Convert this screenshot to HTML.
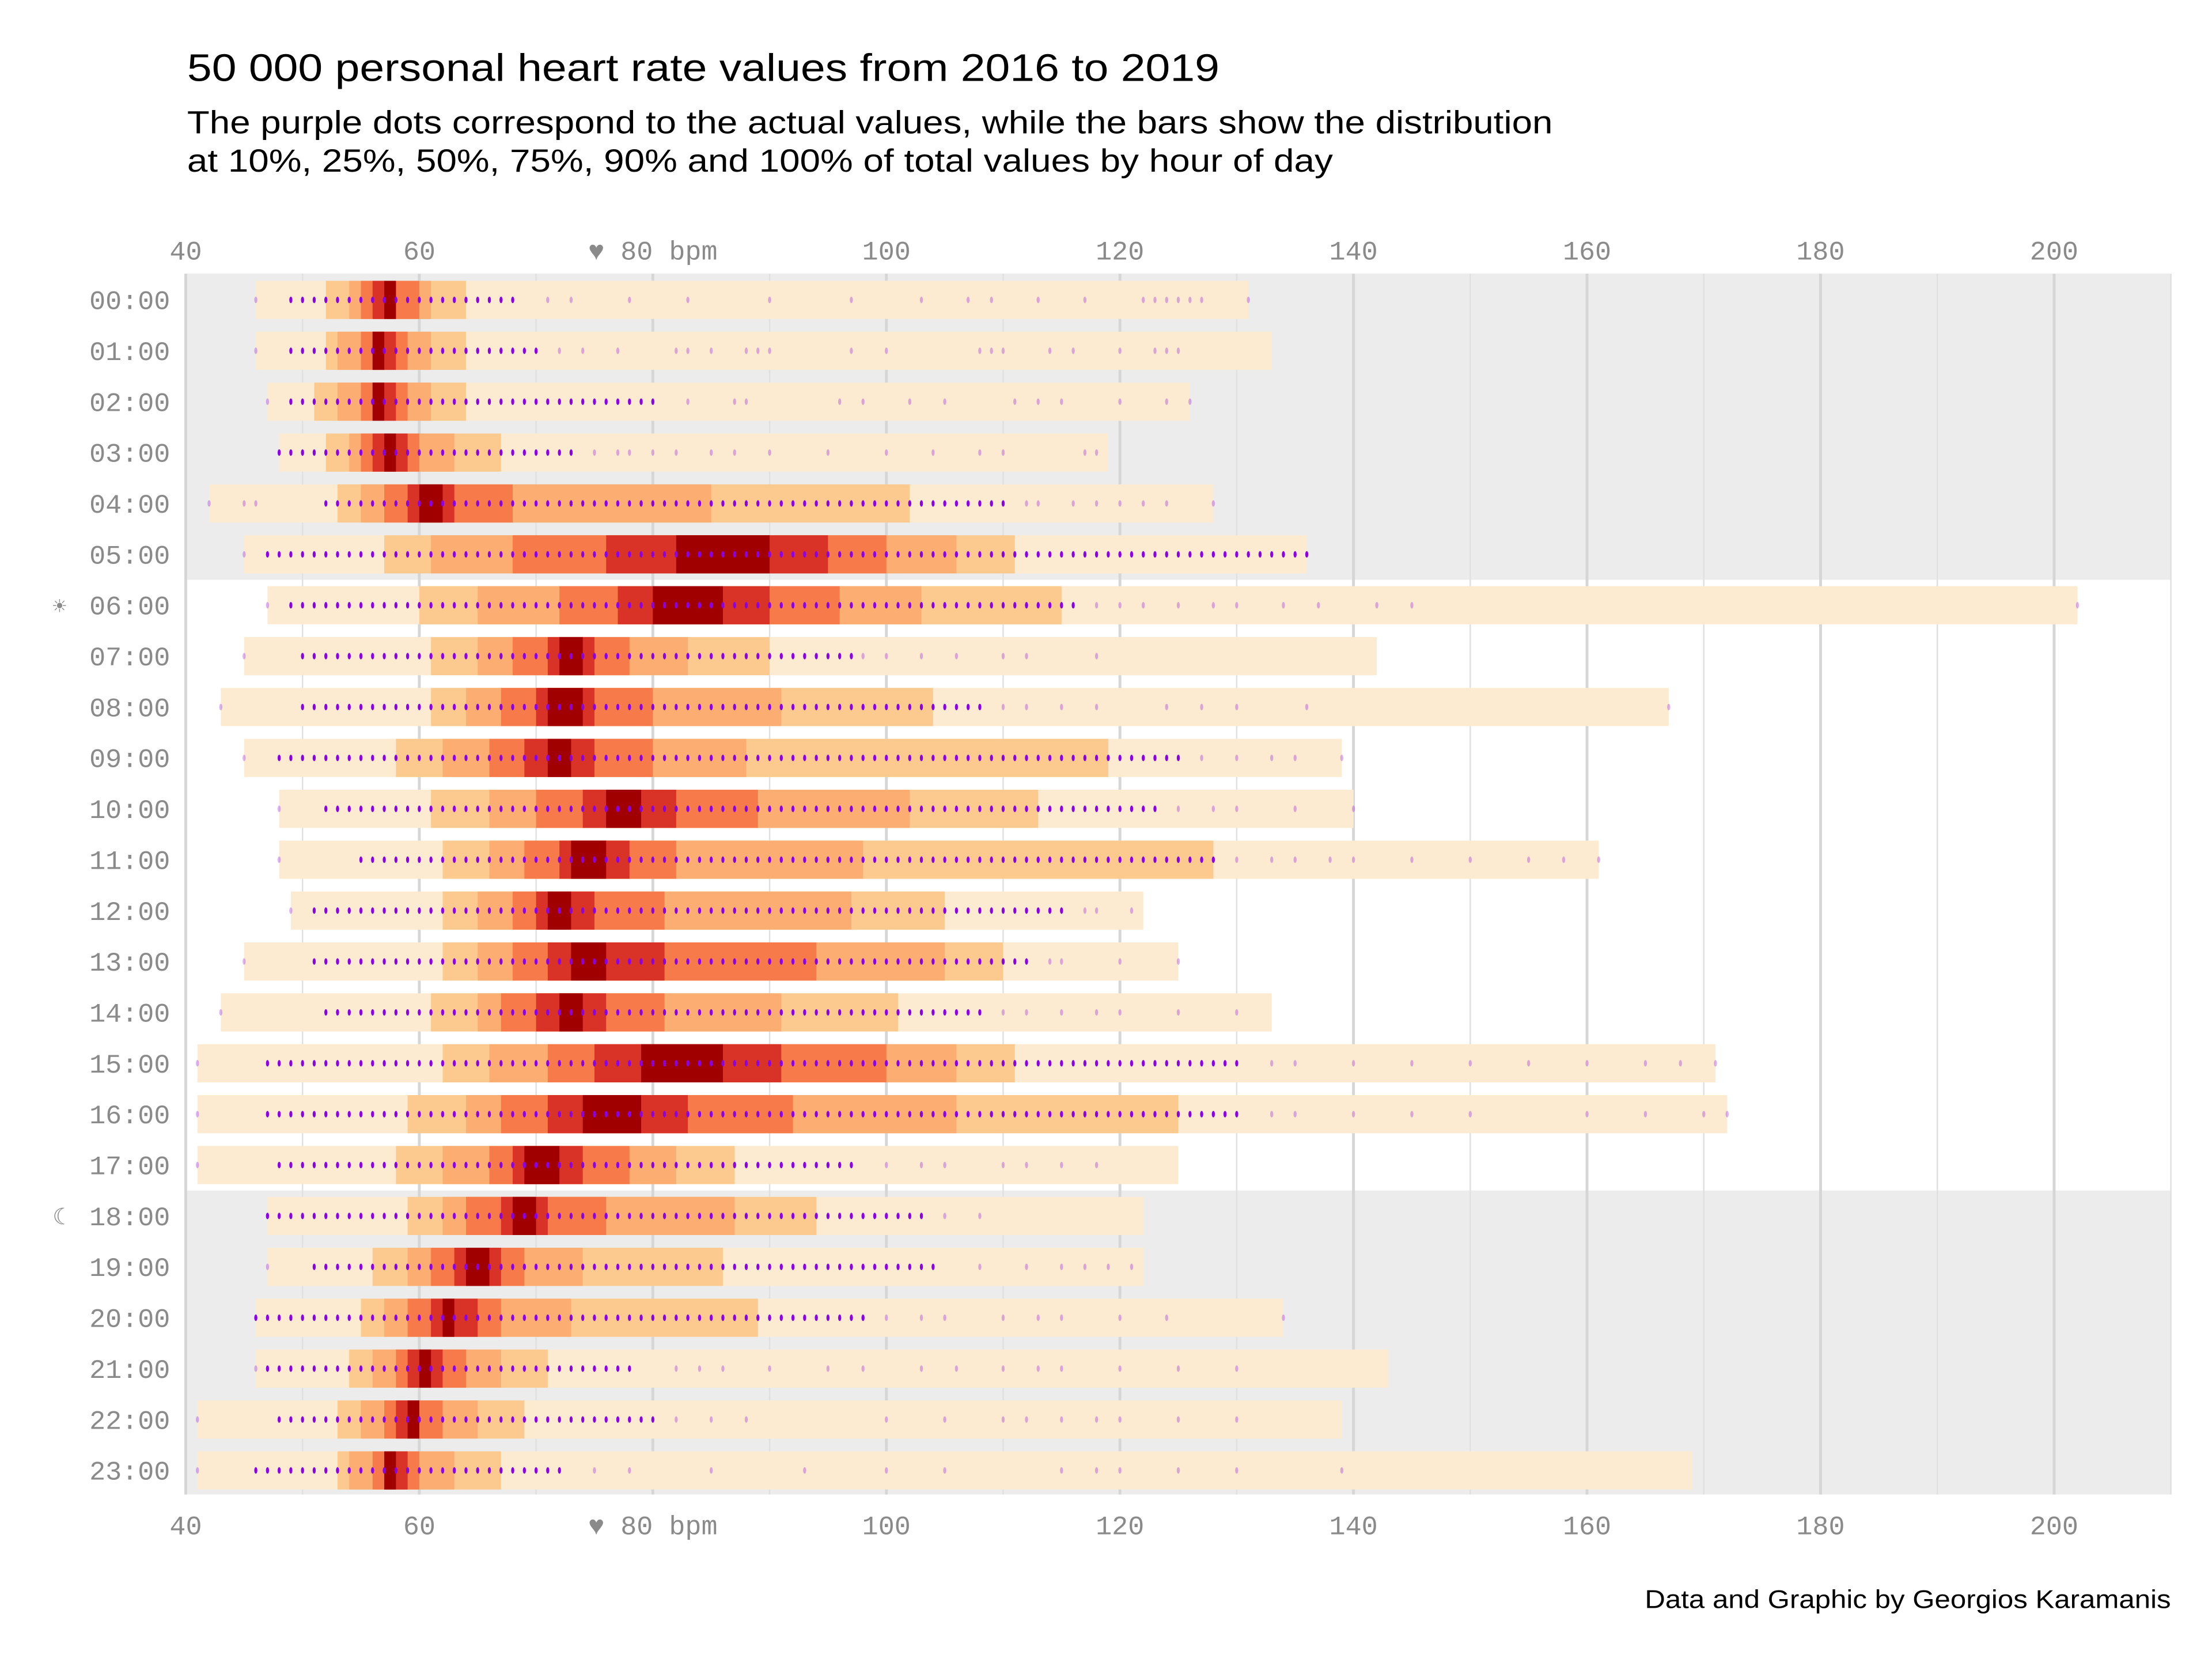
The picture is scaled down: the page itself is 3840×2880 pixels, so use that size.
<!DOCTYPE html>
<html><head><meta charset="utf-8">
<style>
html,body{margin:0;padding:0;background:#fff;}
svg{display:block;}
.mono{font-family:"Liberation Mono","DejaVu Sans Mono",monospace;fill:#8a8a8a;}
.sans{font-family:"Liberation Sans","DejaVu Sans",sans-serif;fill:#000;}
</style></head>
<body>
<svg id="chart" width="3840" height="2880" viewBox="0 0 1560 1170" xmlns="http://www.w3.org/2000/svg">
<rect x="0" y="0" width="1560" height="1170" fill="#fff"/>
<text class="sans" x="132" y="57" font-size="27" textLength="728" lengthAdjust="spacingAndGlyphs">50 000 personal heart rate values from 2016 to 2019</text>
<text class="sans" x="132" y="94" font-size="22.5" textLength="963" lengthAdjust="spacingAndGlyphs">The purple dots correspond to the actual values, while the bars show the distribution</text>
<text class="sans" x="132" y="121" font-size="22.5" textLength="808" lengthAdjust="spacingAndGlyphs">at 10%, 25%, 50%, 75%, 90% and 100% of total values by hour of day</text>
<g id="panel"></g>
<text class="sans" x="1531" y="1134" font-size="18" text-anchor="end" textLength="371" lengthAdjust="spacingAndGlyphs">Data and Graphic by Georgios Karamanis</text>
</svg>
<script>
const hours = ["00:00","01:00","02:00","03:00","04:00","05:00","06:00","07:00","08:00","09:00","10:00","11:00","12:00","13:00","14:00","15:00","16:00","17:00","18:00","19:00","20:00","21:00","22:00","23:00"];
const hourIcons = {"06:00":"☀","18:00":"☾"};
const xTicks = [40,60,80,100,120,140,160,180,200];
const xTickLabels = ["40","60","♥ 80 bpm","100","120","140","160","180","200"];
// interval bounds per level [lo, hi] per hour
const q100 = [[46,131],[46,133],[47,126],[48,119],[42,128],[45,136],[47,202],[45,142],[43,167],[45,139],[48,140],[48,161],[49,122],[45,125],[43,133],[41,171],[41,172],[41,125],[47,122],[47,122],[46,134],[46,143],[41,139],[41,169]];
const q90 = [[52,64],[52,64],[51,64],[52,67],[53,102],[57,111],[60,115],[61,90],[61,104],[58,119],[61,113],[62,128],[62,105],[62,110],[61,101],[62,111],[59,125],[58,87],[59,94],[56,86],[55,89],[54,71],[53,69],[53,67]];
const q75 = [[54,61],[53,61],[53,61],[54,63],[55,85],[61,106],[65,103],[65,83],[64,91],[62,88],[66,102],[66,98],[65,97],[65,105],[65,91],[66,106],[64,106],[62,82],[62,87],[59,74],[57,73],[56,67],[55,65],[54,63]];
const q50 = [[55,60],[55,59],[55,59],[55,60],[57,68],[68,100],[72,96],[68,78],[67,80],[66,80],[70,89],[69,82],[68,81],[68,94],[67,81],[71,100],[67,92],[66,78],[64,76],[61,69],[59,67],[58,64],[57,62],[56,60]];
const q25 = [[56,58],[56,58],[56,58],[56,59],[59,63],[76,95],[77,90],[71,75],[70,75],[69,75],[74,82],[72,78],[70,75],[71,81],[70,76],[75,91],[71,83],[68,74],[67,71],[63,67],[61,65],[59,62],[58,60],[57,59]];
const q10 = [[57,58],[56,57],[56,57],[57,58],[60,62],[82,90],[80,86],[72,74],[71,74],[71,73],[76,79],[73,76],[71,73],[73,76],[72,74],[79,86],[74,79],[69,72],[68,70],[64,66],[62,63],[60,61],[59,60],[57,58]];
// observed values: dense run of integer values [from, to] and sparse outlier values
const denseRuns = [[49,68],[49,70],[49,80],[48,73],[52,110],[47,136],[49,116],[50,97],[50,108],[48,125],[52,123],[55,128],[51,115],[51,112],[52,108],[47,130],[47,130],[48,97],[47,103],[51,104],[46,98],[47,78],[48,80],[46,72]];
const sparseVals = [
 [46,71,73,78,83,90,97,103,107,109,113,117,122,123,124,125,126,127,131],
 [46,72,74,77,82,83,85,88,89,90,97,100,108,109,110,114,116,120,123,124,125],
 [47,83,87,88,96,98,102,105,111,113,115,120,124,126],
 [75,77,78,80,82,85,87,90,95,100,104,108,110,117,118],
 [42,45,46,112,113,116,118,120,122,124,128],
 [45],
 [47,118,120,122,125,128,130,134,137,142,145,202],
 [45,98,100,103,106,110,112,118],
 [43,110,112,115,118,124,127,130,136,167],
 [45,127,130,133,135,139],
 [48,125,128,130,135,140],
 [48,130,133,135,138,140,145,150,155,158,161],
 [49,117,118,121],
 [45,114,115,120,125],
 [43,110,112,115,118,120,125,130],
 [41,133,135,140,145,150,155,160,165,168,171],
 [41,133,135,140,145,150,160,165,170,172],
 [41,100,103,105,110,112,115,118],
 [47,105,108],
 [47,108,112,115,117,119,121],
 [100,103,105,110,113,115,120,124,134],
 [46,82,84,86,90,95,98,103,106,110,113,115,120,125,130],
 [41,82,85,88,100,105,110,112,115,118,120,125,130],
 [41,75,78,85,93,100,105,115,118,120,125,130,139]
];

const NS = "http://www.w3.org/2000/svg";
const panel = document.getElementById('panel');
const X0 = 131, X1 = 1531, Y0 = 193, Y1 = 1054;
const xMin = 40, xMax = 210;
const xScale = v => X0 + (v - xMin) * (X1 - X0) / (xMax - xMin);
const rowStep = (1037 - 211.5) / 23;
const yScale = i => 211.5 + i * rowStep;
const barH = rowStep * 0.75;

function mk(tag, attrs, parent) {
  const el = document.createElementNS(NS, tag);
  for (const k in attrs) el.setAttribute(k, attrs[k]);
  (parent || panel).appendChild(el);
  return el;
}

// backgrounds
const nightTop = mk('rect', {x:X0, y:Y0, width:X1-X0, height:yScale(5.5)-Y0, fill:'#ececec'});


const nightBot = mk('rect', {x:X0, y:yScale(17.5), width:X1-X0, height:Y1-yScale(17.5), fill:'#ececec'});



// gridlines
for (let v = 40; v <= 210; v += 10) {
  const major = xTicks.includes(v);
  const g = mk('line', {x1:xScale(v), x2:xScale(v), y1:Y0, y2:Y1, stroke: major ? '#d6d6d6' : '#e0e0e0', 'stroke-width': major ? 2 : 1});
  
  
}

const levels = [q100, q90, q75, q50, q25, q10];
const levelNames = ['100','90','75','50','25','10'];
const colors = ['#fcebd0', '#fcca8e', '#fbad72', '#f77b4a', '#d93327', '#a10000'];

hours.forEach((h, i) => {
  const cy = yScale(i);
  levels.forEach((lv, k) => {
    const r = mk('rect', {x:xScale(lv[i][0]), y:cy - barH/2, width:xScale(lv[i][1]) - xScale(lv[i][0]), height:barH, fill:colors[k]});
    
    
  });
  const run = denseRuns[i];
  for (let v = run[0]; v <= run[1]; v++) {
    const d = mk('ellipse', {cx:xScale(v), cy:cy, rx:1.1, ry:2.3, fill:'#8a00e8'});
    
    
  }
  sparseVals[i].forEach(v => {
    const d = mk('ellipse', {cx:xScale(v), cy:cy, rx:1.1, ry:2.3, fill:'#8a00e8', 'fill-opacity':0.3});
    
    
  });
  const lab = mk('text', {x:120, y:cy + 6.5, 'font-size':19, 'text-anchor':'end', class:'mono'});
  lab.textContent = h;
  
  
  if (hourIcons[h]) {
    const ic = mk('text', {x:42, y:cy + 6, 'font-size':16, 'text-anchor':'middle', class:'mono'});
    ic.textContent = hourIcons[h];
    
    
  }
});

xTicks.forEach((v, k) => {
  [183, 1082].forEach((yy, j) => {
    const t = mk('text', {x:xScale(v), y:yy, 'font-size':19, 'text-anchor':'middle', class:'mono'});
    t.textContent = xTickLabels[k];
    
    
  });
});
</script>
</body></html>
